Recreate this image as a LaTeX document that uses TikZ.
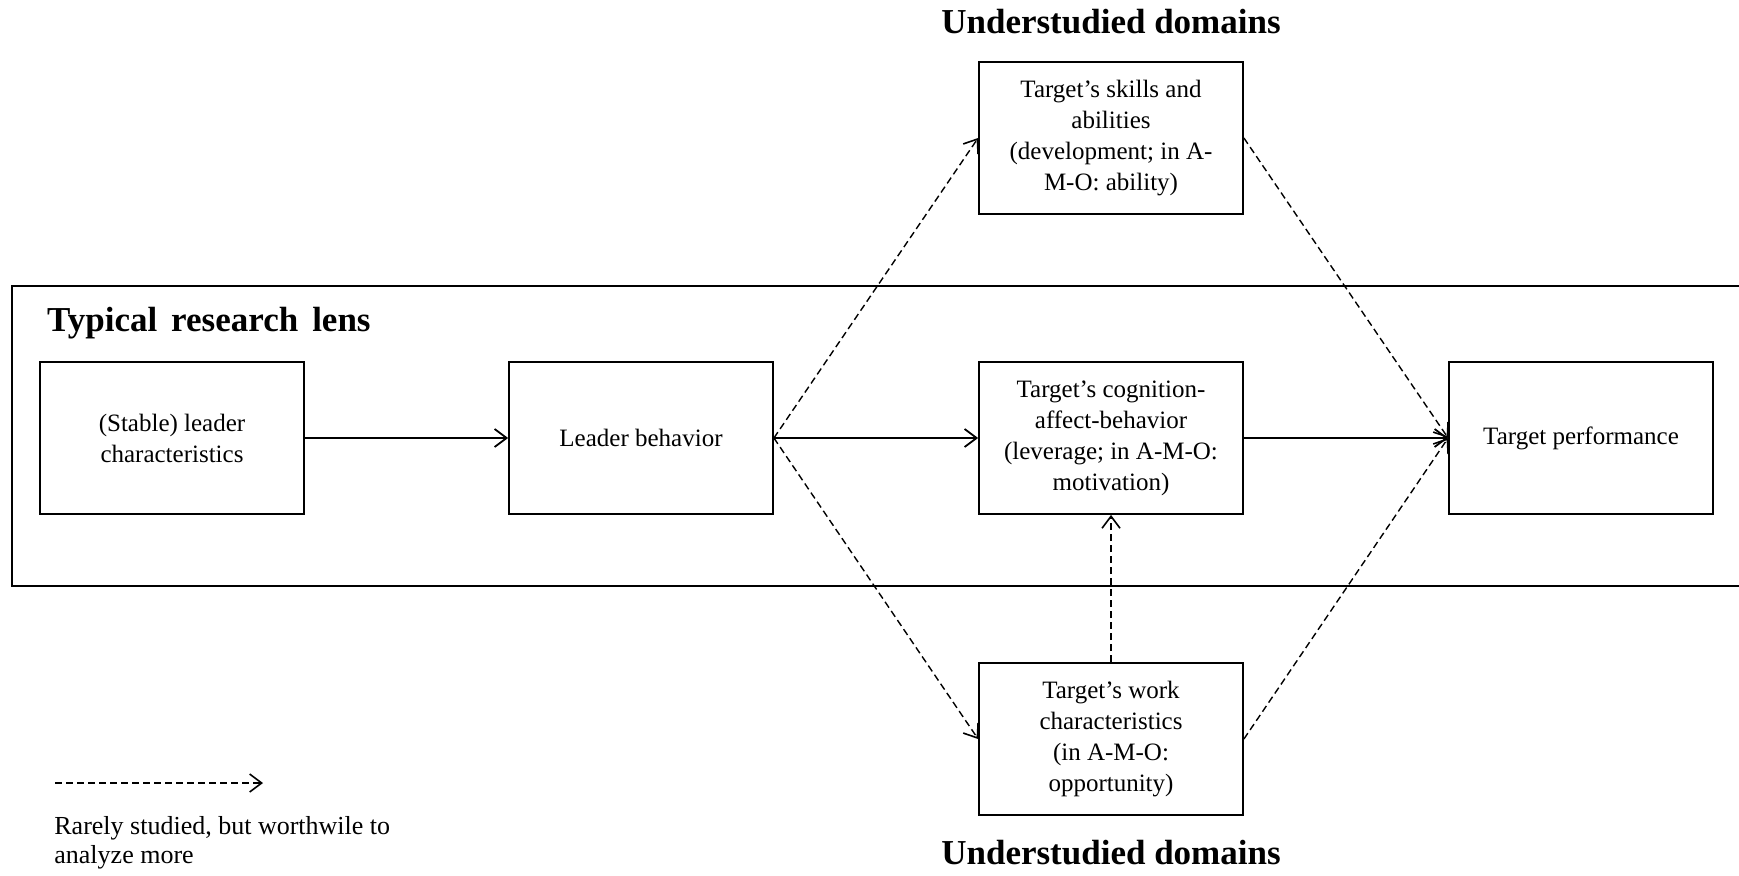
\documentclass[tikz,border=0pt]{standalone}
\usepackage{fontspec}
\setmainfont{Liberation Serif}
\usetikzlibrary{arrows.meta}
\tikzset{
  box/.style={draw, line width=0.9pt, minimum width=132pt, minimum height=76pt,
    inner sep=2pt, align=center, font=\fontsize{12.5}{15.5}\selectfont},
  heading/.style={font=\fontsize{17.5}{20}\selectfont\bfseries},
  solidarrow/.style={line width=0.9pt, -{Straight Barb[length=6pt,width=9pt,line width=0.9pt]}},
  dasharrow/.style={line width=0.7pt, dash pattern=on 3.5pt off 2pt,
    -{Straight Barb[length=6pt,width=9pt,line width=0.8pt]}},
}
\begin{document}
\begin{tikzpicture}[x=0.5pt, y=-0.5pt]
\useasboundingbox (0,0) rectangle (1739,875);

% frame of the usual research lens (open towards the right margin)
\draw[line width=0.9pt] (1750,286) -- (12,286) -- (12,586) -- (1750,586);
\node[heading, anchor=west] (lens) at (40,323)
  {\spaceskip=0.4em\relax Typical research lens};

% main chain
\node[box] (lead) at (172,438) {(Stable) leader\\characteristics};
\node[box] (beh)  at (641,438) {Leader behavior};
\node[box] (cog)  at (1111,438) {Target’s cognition-\\affect-behavior\\(leverage; in A-M-O:\\motivation)};
\node[box] (perf) at (1581,438) {Target performance};

% understudied domains
\node[box] (skill) at (1111,138) {Target’s skills and\\abilities\\(development; in A-\\M-O: ability)};
\node[box] (work)  at (1111,739) {Target’s work\\characteristics\\(in A-M-O:\\opportunity)};
\node[heading] (udtop) at (1111,22) {Understudied domains};
\node[heading] (udbot) at (1111,853) {Understudied domains};

% connectors
\draw[solidarrow] (lead.east) -- (beh.west);
\draw[solidarrow] (beh.east) -- (cog.west);
\draw[solidarrow] (cog.east) -- (perf.west);
\draw[dasharrow] (beh.east) -- (skill.west);
\draw[dasharrow] (beh.east) -- (work.west);
\draw[dasharrow] (skill.east) -- (perf.west);
\draw[dasharrow] (work.east) -- (perf.west);
\draw[dasharrow] (work.north) -- (cog.south);

% legend
\coordinate (lgA) at (55,783);
\coordinate (lgB) at (263,783);
\draw[dasharrow] (lgA) -- (lgB);
\node[anchor=north west, inner sep=0pt, align=left,
  font=\fontsize{13}{14.5}\selectfont] (lgtext) at (54,816)
  {Rarely studied, but worthwile to\\analyze more};
\end{tikzpicture}
\end{document}
